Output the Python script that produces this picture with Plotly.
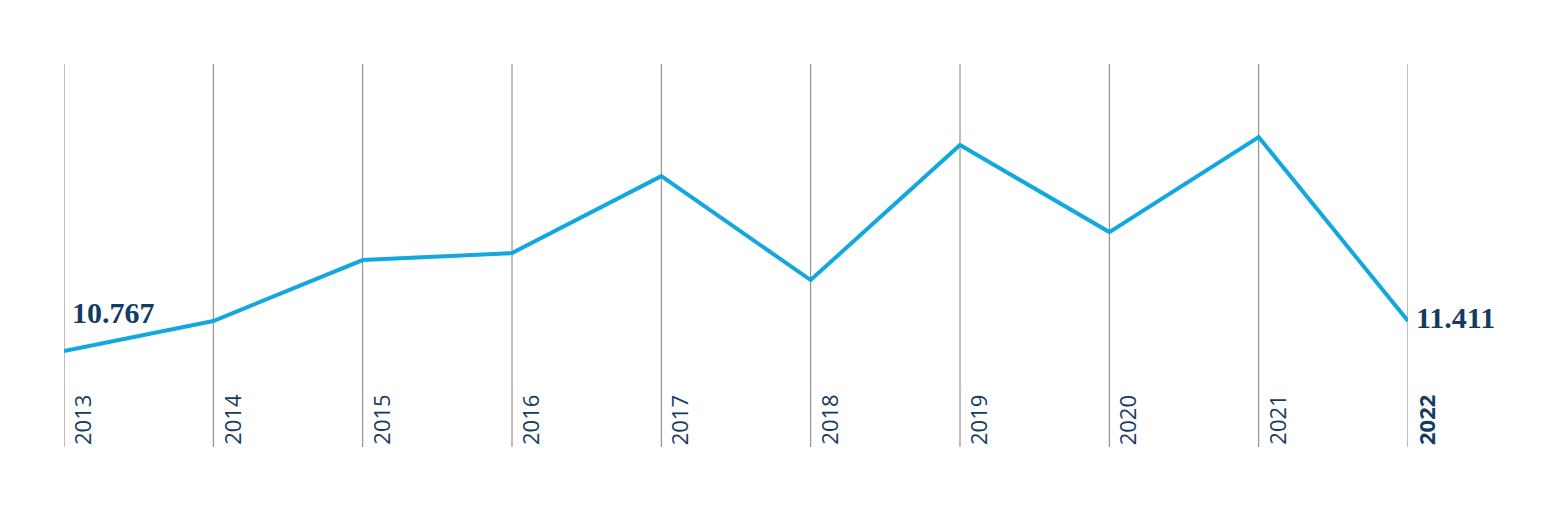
import plotly.graph_objects as go

# Data
years = [2013, 2014, 2015, 2016, 2017, 2018, 2019, 2020, 2021, 2022]
values = [10767, 11411, 12720, 12870, 14520, 12290, 15190, 13320, 15360, 11411]
value_labels = {2013: "10.767", 2022: "11.411"}

LINE_BLUE = "#12a8df"
NAVY = "#143b62"

fig = go.Figure()

# vertical guide lines at every year (edges included)
for yr in years:
    fig.add_shape(
        type="line", xref="x", yref="paper", x0=yr, x1=yr, y0=0, y1=1,
        line=dict(color="#7f7f7f", width=1), layer="below",
    )

fig.add_trace(
    go.Scatter(
        x=years,
        y=values,
        mode="lines",
        line=dict(color=LINE_BLUE, width=4),
        cliponaxis=False,
        hoverinfo="x+y",
        showlegend=False,
    )
)

# year labels, rotated, next to each gridline
for yr in years:
    fig.add_annotation(
        x=yr,
        y=0,
        yref="paper",
        text=f"<b>{yr}</b>" if yr == years[-1] else str(yr),
        textangle=-90,
        showarrow=False,
        xanchor="left",
        yanchor="bottom",
        xshift=1,
        yshift=0,
        font=dict(family="Open Sans", size=22, color=NAVY),
    )

# first and last value labels
fig.add_annotation(
    x=years[0], y=values[0], text=f"<b>{value_labels[years[0]]}</b>",
    showarrow=False, xanchor="left", yanchor="middle", xshift=6, yshift=39,
    font=dict(family="Liberation Serif", size=30, color=NAVY),
)
fig.add_annotation(
    x=years[-1], y=values[-1], text=f"<b>{value_labels[years[-1]]}</b>",
    showarrow=False, xanchor="left", yanchor="middle", xshift=6, yshift=4,
    font=dict(family="Liberation Serif", size=30, color=NAVY),
)

fig.update_xaxes(
    range=[2013, 2022],
    showticklabels=False,
    showgrid=False,
    zeroline=False,
    showline=False,
)
fig.update_yaxes(
    range=[8706, 16929],
    showticklabels=False,
    showgrid=False,
    zeroline=False,
    showline=False,
)
fig.update_layout(
    width=1547,
    height=512,
    margin=dict(l=56, r=147, t=56, b=73),
    plot_bgcolor="white",
    paper_bgcolor="white",
)

fig.write_html("out.html")
